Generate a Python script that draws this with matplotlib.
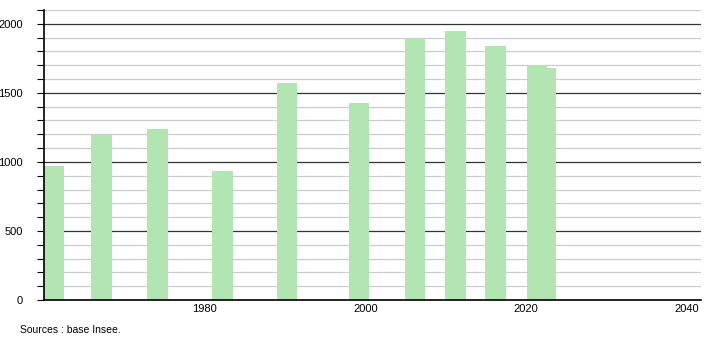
import matplotlib.pyplot as plt
from matplotlib.ticker import MultipleLocator

# Population by census year (bar positions)
years = [1961.2, 1967.1, 1974.1, 1982.2, 1990.2, 1999.2, 2006.2, 2011.2, 2016.2, 2021.4, 2022.4]
population = [972, 1192, 1240, 936, 1574, 1427, 1898, 1945, 1838, 1705, 1680]

x_ticks = [1980, 2000, 2020, 2040]
y_ticks = [0, 500, 1000, 1500, 2000]

plt.rcParams['font.family'] = ['Liberation Sans', 'DejaVu Sans']
plt.rcParams['font.size'] = 8

fig = plt.figure(figsize=(7.1, 3.4), dpi=100)
ax = fig.add_axes([44 / 710, 40 / 340, 657 / 710, 290 / 340])

ax.bar(years, population, width=2.55, color='#b2e5b2', zorder=3)

ax.set_xlim(1959.95, 2041.8)
ax.set_ylim(0, 2100)

# light grid every 100, dark lines every 500
ax.yaxis.set_minor_locator(MultipleLocator(100))
ax.set_yticks(y_ticks)
ax.grid(axis='y', which='minor', color='#cccccc', linewidth=0.9, zorder=1)
ax.grid(axis='y', which='major', color='#333333', linewidth=0.9, zorder=2)

ax.set_xticks(x_ticks)
ax.tick_params(axis='x', length=0, pad=3)
ax.tick_params(axis='y', which='both', length=5, width=0.8, pad=10, direction='out')

for s in ('top', 'right'):
    ax.spines[s].set_visible(False)
ax.spines['left'].set_linewidth(1.2)
ax.spines['bottom'].set_linewidth(1.2)
ax.spines['left'].set_zorder(4)
ax.spines['bottom'].set_zorder(4)

fig.text(20 / 710, 1 - 330 / 340, 'Sources : base Insee.', fontsize=7.5, va='center', ha='left')

fig.savefig('out.png', dpi=100)
